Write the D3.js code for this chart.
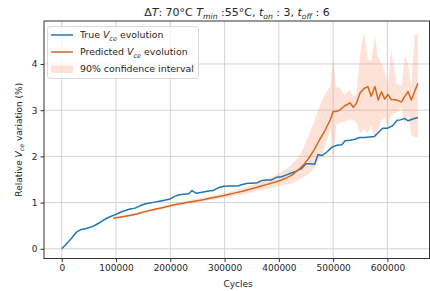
<!DOCTYPE html>
<html>
<head>
<meta charset="utf-8">
<script src="https://cdn.jsdelivr.net/npm/d3@7"></script>
<style>
  body { margin: 0; background: #fff; }
  text { font-family: "DejaVu Sans", sans-serif; fill: #262626; }
</style>
</head>
<body>
<svg id="chart" width="430" height="291"></svg>
<script>
// measured V_ce (true)
const trueCycles = [0, 9000, 18000, 27000, 36000, 45000, 54000, 63000, 72000, 81000, 90000, 99000,
  108000, 117000, 126000, 135000, 144000, 153000, 162000, 171000, 180000, 189000, 198000, 207000,
  216000, 225000, 234000, 240000, 248000, 261000, 270000, 279000, 288000, 297000, 306000, 315000,
  324000, 333000, 342000, 351000, 360000, 369000, 378000, 387000, 396000, 405000, 414000, 423000,
  432000, 441000, 450000, 459000, 466000, 472000, 480000, 489000, 498000, 507000, 516000, 522000,
  531000, 540000, 549000, 558000, 567000, 576000, 582000, 591000, 600000, 609000, 618000, 624000,
  632000, 638000, 647000, 656000];
const trueValues = [0, 0.11, 0.23, 0.36, 0.42, 0.44, 0.47, 0.52, 0.58, 0.65, 0.70, 0.74,
  0.79, 0.83, 0.86, 0.88, 0.93, 0.97, 0.99, 1.01, 1.03, 1.05, 1.07, 1.13,
  1.17, 1.18, 1.19, 1.26, 1.20, 1.23, 1.25, 1.26, 1.32, 1.35, 1.36, 1.36,
  1.36, 1.39, 1.42, 1.42, 1.43, 1.48, 1.49, 1.49, 1.55, 1.56, 1.60, 1.64,
  1.68, 1.73, 1.84, 1.84, 1.83, 2.04, 2.02, 2.10, 2.20, 2.24, 2.25, 2.34,
  2.35, 2.37, 2.41, 2.41, 2.42, 2.43, 2.50, 2.61, 2.61, 2.66, 2.78, 2.79,
  2.82, 2.77, 2.81, 2.84];

// predicted V_ce and its 90% interval
const predCycles = [95000, 110000, 125000, 140000, 155000, 170000, 185000, 200000, 215000, 230000,
  245000, 260000, 275000, 290000, 305000, 320000, 335000, 350000, 365000, 380000, 395000, 405000,
  415000, 425000, 435000, 445000, 455000, 465000, 475000, 485000, 495000, 500000, 506000, 512000,
  521000, 531000, 537000, 543000, 550000, 557000, 564000, 570000, 577000, 583000, 589000, 595000,
  601000, 607000, 616000, 626000, 632000, 638000, 644000, 650000, 656000];
const predValues = [0.66, 0.69, 0.72, 0.76, 0.81, 0.85, 0.89, 0.93, 0.97, 1.00,
  1.03, 1.06, 1.10, 1.13, 1.17, 1.21, 1.25, 1.30, 1.35, 1.40, 1.45, 1.49,
  1.54, 1.60, 1.70, 1.81, 1.96, 2.14, 2.36, 2.56, 2.80, 2.97, 2.97, 3.00,
  3.09, 3.16, 3.06, 3.15, 3.38, 3.47, 3.51, 3.30, 3.51, 3.22, 3.40, 3.24,
  3.34, 3.23, 3.22, 3.18, 3.30, 3.40, 3.22, 3.40, 3.58];
const ciLower = [0.64, 0.67, 0.70, 0.73, 0.78, 0.82, 0.86, 0.90, 0.93, 0.96,
  0.99, 1.02, 1.05, 1.08, 1.12, 1.15, 1.18, 1.22, 1.26, 1.30, 1.34, 1.37,
  1.39, 1.42, 1.48, 1.55, 1.62, 1.75, 1.95, 2.20, 2.60, 1.88, 2.68, 2.72,
  2.75, 2.80, 2.80, 2.72, 2.50, 2.60, 2.50, 2.68, 2.35, 2.55, 2.80, 2.85,
  2.62, 2.90, 2.95, 3.05, 2.65, 2.95, 2.46, 2.42, 2.42];
const ciUpper = [0.68, 0.72, 0.75, 0.79, 0.84, 0.88, 0.92, 0.96, 1.00, 1.04,
  1.07, 1.10, 1.14, 1.18, 1.22, 1.27, 1.32, 1.38, 1.44, 1.52, 1.60, 1.66,
  1.74, 1.84, 1.96, 2.17, 2.45, 2.75, 3.08, 3.35, 3.52, 4.12, 3.48, 3.50,
  3.33, 3.44, 3.30, 3.35, 4.25, 4.70, 4.10, 4.05, 4.60, 4.15, 4.00, 3.85,
  3.55, 4.30, 3.60, 3.50, 4.19, 4.00, 3.51, 4.63, 4.66];

const xTicks = [0, 100000, 200000, 300000, 400000, 500000, 600000];
const yTicks = [0, 1, 2, 3, 4];

const svg = d3.select('svg#chart');

// plot box
const box = {left: 44, right: 429.5, top: 21, bottom: 258.5};

const x = d3.scaleLinear().domain([-32700, 677500]).range([box.left, box.right]);
const y = d3.scaleLinear().domain([-0.21, 4.93]).range([box.bottom, box.top]);

const trueData = trueCycles.map((c, i) => ({c: c, v: trueValues[i]}));
const predData = predCycles.map((c, i) => ({c: c, v: predValues[i], lo: ciLower[i], hi: ciUpper[i]}));

svg.append('clipPath').attr('id', 'clip')
  .append('rect')
    .attr('x', box.left).attr('y', box.top)
    .attr('width', box.right - box.left).attr('height', box.bottom - box.top);

// grid
const grid = svg.append('g').attr('stroke', '#d3d3d3').attr('stroke-width', 1);
grid.selectAll('line.gx').data(xTicks).enter().append('line')
  .attr('x1', d => x(d)).attr('x2', d => x(d))
  .attr('y1', box.top).attr('y2', box.bottom);
grid.selectAll('line.gy').data(yTicks).enter().append('line')
  .attr('x1', box.left).attr('x2', box.right)
  .attr('y1', d => y(d)).attr('y2', d => y(d));

const plot = svg.append('g').attr('clip-path', 'url(#clip)');

// confidence band
plot.append('path')
  .datum(predData)
  .attr('d', d3.area().x(d => x(d.c)).y0(d => y(d.lo)).y1(d => y(d.hi)))
  .attr('fill', '#ffa07a')
  .attr('fill-opacity', 0.3);

// true line
plot.append('path')
  .datum(trueData)
  .attr('d', d3.line().x(d => x(d.c)).y(d => y(d.v)))
  .attr('fill', 'none')
  .attr('stroke', '#1f77b4')
  .attr('stroke-width', 1.5)
  .attr('stroke-linejoin', 'round');

// predicted line
plot.append('path')
  .datum(predData)
  .attr('d', d3.line().x(d => x(d.c)).y(d => y(d.v)))
  .attr('fill', 'none')
  .attr('stroke', '#d2691e')
  .attr('stroke-width', 1.5)
  .attr('stroke-linejoin', 'round');

// axes
const xAxis = svg.append('g')
  .attr('transform', `translate(0, ${box.bottom})`)
  .call(d3.axisBottom(x).tickValues(xTicks).tickFormat(d3.format('d')).tickSize(3.5).tickPadding(3));
const yAxis = svg.append('g')
  .attr('transform', `translate(${box.left}, 0)`)
  .call(d3.axisLeft(y).tickValues(yTicks).tickFormat(d3.format('d')).tickSize(3.5).tickPadding(3));
[xAxis, yAxis].forEach(a => {
  a.select('.domain').remove();
  a.selectAll('.tick line').attr('stroke', '#333');
  a.selectAll('.tick text').attr('font-size', 9).attr('fill', '#262626')
    .style('font-family', '"DejaVu Sans", sans-serif');
});

// frame
svg.append('rect')
  .attr('x', box.left).attr('y', box.top)
  .attr('width', box.right - box.left).attr('height', box.bottom - box.top)
  .attr('fill', 'none').attr('stroke', '#333').attr('stroke-width', 1);

// rich text with italics and subscripts
function rich(sel, parts, size) {
  parts.forEach(p => {
    const t = sel.append('tspan').text(p.t);
    if (p.i) t.attr('font-style', 'italic');
    if (p.sub) t.attr('font-size', size * 0.7).attr('dy', size * 0.25);
    if (p.back) t.attr('dy', -size * 0.25);
  });
}

const title = svg.append('text')
  .attr('x', 237).attr('y', 16)
  .attr('text-anchor', 'middle')
  .attr('font-size', 11);
rich(title, [
  {t: 'Δ'}, {t: 'T', i: true}, {t: ':  70°C '},
  {t: 'T', i: true}, {t: 'min', i: true, sub: true}, {t: ' :55°C, ', back: true},
  {t: 't', i: true}, {t: 'on', i: true, sub: true}, {t: ' : 3, ', back: true},
  {t: 't', i: true}, {t: 'off', i: true, sub: true}, {t: ' : 6', back: true}
], 11);

svg.append('text')
  .attr('x', x(325000)).attr('y', 287)
  .attr('text-anchor', 'middle')
  .attr('font-size', 9)
  .text('Cycles');

const ylab = svg.append('text')
  .attr('transform', `translate(22, ${(box.top + box.bottom) / 2}) rotate(-90)`)
  .attr('text-anchor', 'middle')
  .attr('font-size', 9);
rich(ylab, [
  {t: 'Relative '}, {t: 'V', i: true}, {t: 'ce', i: true, sub: true},
  {t: ' variation (%)', back: true}
], 9);

// legend
const legend = svg.append('g');
legend.append('rect')
  .attr('x', 47.5).attr('y', 26.5).attr('width', 151).attr('height', 52)
  .attr('rx', 2.5)
  .attr('fill', '#fff').attr('fill-opacity', 0.8)
  .attr('stroke', '#d0d0d0').attr('stroke-width', 0.8);

const items = [
  {type: 'line', color: '#1f77b4', parts: [{t: 'True '}, {t: 'V', i: true}, {t: 'ce', i: true, sub: true}, {t: ' evolution', back: true}]},
  {type: 'line', color: '#d2691e', parts: [{t: 'Predicted '}, {t: 'V', i: true}, {t: 'ce', i: true, sub: true}, {t: ' evolution', back: true}]},
  {type: 'area', color: '#ffa07a', parts: [{t: '90% confidence interval'}]}
];
items.forEach((it, i) => {
  const cy = 35 + i * 17;
  if (it.type === 'line') {
    legend.append('line')
      .attr('x1', 51).attr('x2', 73).attr('y1', cy).attr('y2', cy)
      .attr('stroke', it.color).attr('stroke-width', 1.5);
  } else {
    legend.append('rect')
      .attr('x', 51).attr('y', cy - 3.5).attr('width', 22).attr('height', 7.5)
      .attr('fill', it.color).attr('fill-opacity', 0.3);
  }
  const t = legend.append('text')
    .attr('x', 80).attr('y', cy + 3.4)
    .attr('font-size', 9.4);
  rich(t, it.parts, 9.4);
});
</script>
</body>
</html>
